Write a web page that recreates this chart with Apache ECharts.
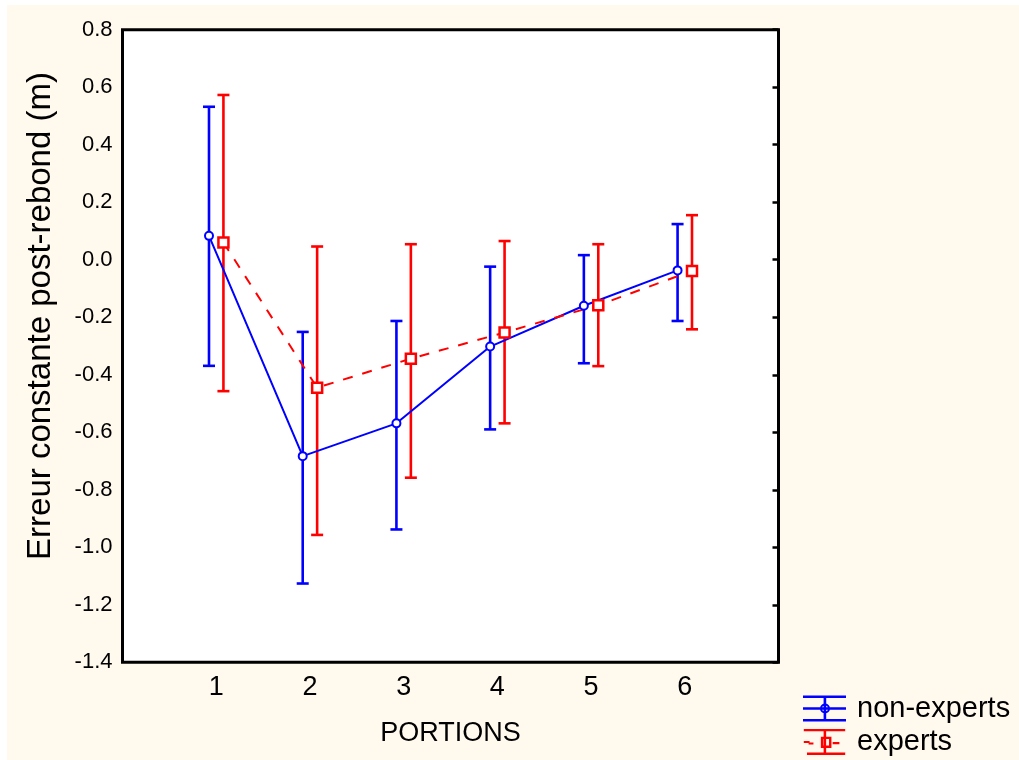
<!DOCTYPE html>
<html>
<head>
<meta charset="utf-8">
<script src="https://cdn.jsdelivr.net/npm/echarts@6/dist/echarts.min.js"></script>
<style>
html,body{margin:0;padding:0;background:#fff;}
#chart{width:1019px;height:760px;}
</style>
</head>
<body>
<div id="chart"></div>
<script>
// ---- data ----
var portions = [1, 2, 3, 4, 5, 6];
var xTickLabels = ['1', '2', '3', '4', '5', '6'];
var nonExpertsMean = [0.083, -0.683, -0.569, -0.302, -0.160, -0.037];
var nonExpertsLow  = [-0.369, -1.126, -0.938, -0.590, -0.360, -0.213];
var nonExpertsHigh = [0.532, -0.251, -0.213, -0.024, 0.016, 0.124];
var expertsMean = [0.060, -0.445, -0.344, -0.253, -0.158, -0.039];
var expertsLow  = [-0.457, -0.957, -0.758, -0.569, -0.370, -0.242];
var expertsHigh = [0.573, 0.046, 0.054, 0.065, 0.054, 0.155];
var seriesNames = ['non-experts', 'experts'];
var xTitle = 'PORTIONS';
var yTitle = 'Erreur constante post-rebond (m)';

// ---- layout / style ----
var BLUE = '#0000FF', RED = '#FF0000';
var OFFSET = 0.077;
var FONT = "'Liberation Sans', Arial, sans-serif";

function pts(means, shift) {
  return portions.map(function (p, i) { return [p + shift, means[i]]; });
}
function bars(lo, hi, shift) {
  return portions.map(function (p, i) { return [p + shift, lo[i], hi[i]]; });
}
function errRender(color) {
  return function (params, api) {
    var x = api.value(0), lo = api.value(1), hi = api.value(2);
    var a = api.coord([x, lo]), b = api.coord([x, hi]);
    var hw = 6;
    var st = { stroke: color, lineWidth: 2.6, fill: null };
    return {
      type: 'group',
      children: [
        { type: 'line', shape: { x1: a[0], y1: a[1], x2: b[0], y2: b[1] }, style: st },
        { type: 'line', shape: { x1: b[0] - hw, y1: b[1], x2: b[0] + hw, y2: b[1] }, style: st },
        { type: 'line', shape: { x1: a[0] - hw, y1: a[1], x2: a[0] + hw, y2: a[1] }, style: st }
      ]
    };
  };
}
function rect(x0, y0, x1, y1) { return 'M' + x0 + ' ' + y0 + 'L' + x1 + ' ' + y0 + 'L' + x1 + ' ' + y1 + 'L' + x0 + ' ' + y1 + 'Z'; }
function rectRev(x0, y0, x1, y1) { return 'M' + x0 + ' ' + y0 + 'L' + x0 + ' ' + y1 + 'L' + x1 + ' ' + y1 + 'L' + x1 + ' ' + y0 + 'Z'; }

var iconNon = 'path://' +
  rect(0, 0, 43, 2.5) + rect(0, 11.8, 43, 14.2) + rect(0, 23.5, 43, 26) + rect(20.6, 0, 23.2, 26) +
  'M27 13A5 5 0 1 1 17 13A5 5 0 1 1 27 13Z' +
  'M25 13A3 3 0 1 0 19 13A3 3 0 1 0 25 13Z';
var iconExp = 'path://' +
  rect(0, 0, 43, 2.4) + rect(3.3, 24.4, 43, 27) + rect(20.6, 0, 23.2, 27) +
  rect(0, 12.4, 6, 14.6) + rect(5, 14, 10, 16.2) + rect(30, 13.6, 37, 15.8) +
  rect(17.7, 8, 28.7, 19.7) + rectRev(20.2, 10.5, 26.2, 17.2);

var chart = echarts.init(document.getElementById('chart'));
var option = {
  backgroundColor: '#FFFFFF',
  animation: false,
  textStyle: { fontFamily: FONT, color: '#000' },
  graphic: [
    { type: 'rect', z: -100, silent: true, shape: { x: 7, y: 5, width: 1012, height: 755 }, style: { fill: '#FFF9EE' } },
    { type: 'text', x: 41, y: 316, rotation: Math.PI / 2, silent: true,
      style: { text: yTitle, font: "33px 'Liberation Sans', Arial, sans-serif", fill: '#000', textAlign: 'center', textVerticalAlign: 'middle' } }
  ],
  grid: {
    left: 122.5, top: 29.7, width: 656, height: 632.6,
    show: true, borderColor: '#000', borderWidth: 3, backgroundColor: '#FFFFFF'
  },
  legend: {
    orient: 'vertical', left: 803, top: 694, padding: 0, itemGap: 4.5,
    itemWidth: 43, itemHeight: 26, itemStyle: { borderWidth: 0 },
    textStyle: { fontSize: 29, color: '#000', fontFamily: FONT, lineHeight: 28, padding: [0, 0, 0, 6] },
    data: [
      { name: seriesNames[0], icon: iconNon },
      { name: seriesNames[1], icon: iconExp }
    ]
  },
  xAxis: {
    type: 'value', min: 0, max: 7, interval: 1,
    name: xTitle, nameLocation: 'middle', nameGap: 58,
    nameTextStyle: { fontSize: 27, color: '#000', fontFamily: FONT },
    axisLine: { show: false }, axisTick: { show: false }, splitLine: { show: false },
    axisLabel: {
      fontSize: 27, color: '#000', margin: 12, fontFamily: FONT,
      formatter: function (v) { var i = portions.indexOf(Math.round(v)); return (i >= 0 && Math.abs(v - portions[i]) < 1e-6) ? xTickLabels[i] : ''; }
    }
  },
  yAxis: [{
    type: 'value', min: -1.4, max: 0.8, interval: 0.2, position: 'left',
    axisLine: { show: false }, axisTick: { show: false }, splitLine: { show: false },
    axisLabel: { fontSize: 22, color: '#000', margin: 10, fontFamily: FONT, formatter: function (v) { return v.toFixed(1); } }
  }, {
    type: 'value', min: -1.4, max: 0.8, interval: 0.2, position: 'right',
    axisLine: { show: false }, splitLine: { show: false }, axisLabel: { show: false },
    axisTick: { show: true, inside: true, length: 6, lineStyle: { color: '#000', width: 2.5 } }
  }],
  series: [
    { name: seriesNames[0], type: 'custom', itemStyle: { color: BLUE }, renderItem: errRender(BLUE),
      encode: { x: 0, y: [1, 2] }, data: bars(nonExpertsLow, nonExpertsHigh, -OFFSET), z: 2 },
    { name: seriesNames[1], type: 'custom', itemStyle: { color: RED }, renderItem: errRender(RED),
      encode: { x: 0, y: [1, 2] }, data: bars(expertsLow, expertsHigh, OFFSET), z: 2 },
    { name: seriesNames[0], type: 'line', data: pts(nonExpertsMean, -OFFSET), z: 3,
      lineStyle: { color: BLUE, width: 2 }, symbol: 'circle', symbolSize: 8,
      itemStyle: { color: '#FFFFFF', borderColor: BLUE, borderWidth: 2 } },
    { name: seriesNames[1], type: 'line', data: pts(expertsMean, OFFSET), z: 3,
      lineStyle: { color: RED, width: 2, type: [10, 10] }, symbol: 'rect', symbolSize: 10,
      itemStyle: { color: '#FFFFFF', borderColor: RED, borderWidth: 2.5 } }
  ]
};
chart.setOption(option);
</script>
</body>
</html>
